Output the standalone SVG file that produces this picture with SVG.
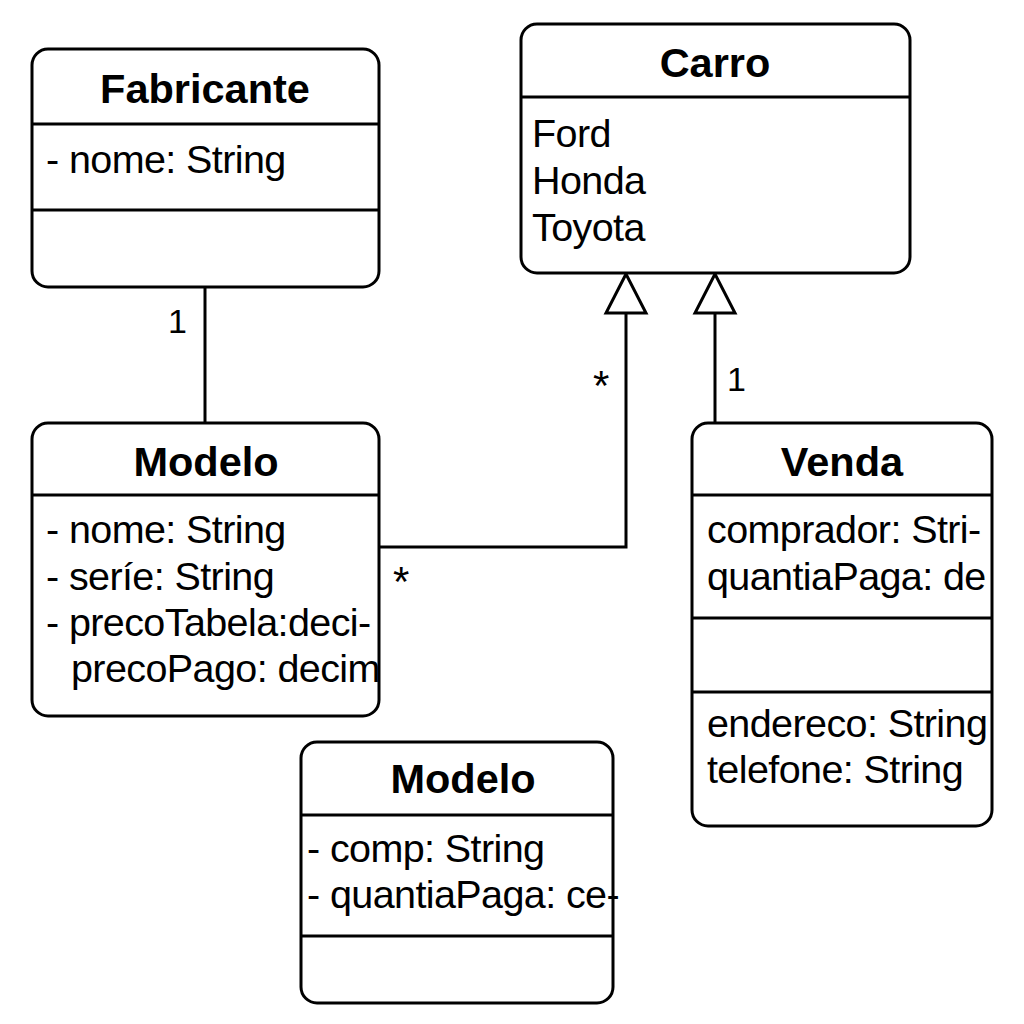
<svg xmlns="http://www.w3.org/2000/svg" width="1024" height="1024" viewBox="0 0 1024 1024">
<style>
.box{fill:#fff;stroke:#000;stroke-width:3}
.div{stroke:#000;stroke-width:3}
.t{font-family:"Liberation Sans",Arial,sans-serif;font-weight:bold;font-size:41.5px;text-anchor:middle;fill:#000}
.a{font-family:"Liberation Sans",Arial,sans-serif;font-size:39.5px;letter-spacing:-0.6px;fill:#000}
.lbl{font-family:"Liberation Sans",Arial,sans-serif;font-size:34px;fill:#000}
.star{font-family:"Liberation Sans",Arial,sans-serif;font-size:42px;fill:#000}
.ln{fill:none;stroke:#000;stroke-width:3}
.tri{fill:#fff;stroke:#000;stroke-width:3;stroke-linejoin:miter}
</style>
<rect width="1024" height="1024" fill="#fff"/>
<g id="connectors">
<line class="ln" x1="205" y1="287" x2="205" y2="423"/>
<polyline class="ln" points="379,547 626,547 626,313"/>
<line class="ln" x1="715" y1="423" x2="715" y2="313"/>
<polygon class="tri" points="626,274 606,313 646,313"/>
<polygon class="tri" points="715,274 695,313 735,313"/>
<text class="lbl" x="168" y="333">1</text>
<text class="star" x="593" y="400">*</text>
<text class="star" x="393" y="596">*</text>
<text class="lbl" x="727" y="391">1</text>
</g>
<g id="fabricante">
<rect class="box" x="32" y="49" width="347" height="238" rx="16"/>
<line class="div" x1="32" y1="124" x2="379" y2="124"/>
<line class="div" x1="32" y1="210" x2="379" y2="210"/>
<text class="t" x="205" y="103">Fabricante</text>
<text class="a" x="46" y="173">- nome: String</text>
</g>
<g id="carro">
<rect class="box" x="521" y="24" width="389" height="249" rx="16"/>
<line class="div" x1="521" y1="97" x2="910" y2="97"/>
<text class="t" x="715" y="77">Carro</text>
<text class="a" x="532" y="147">Ford</text>
<text class="a" x="532" y="194">Honda</text>
<text class="a" x="532" y="241">Toyota</text>
</g>
<g id="modelo1">
<rect class="box" x="32" y="423" width="347" height="293" rx="16"/>
<line class="div" x1="32" y1="495" x2="379" y2="495"/>
<text class="t" x="206" y="476">Modelo</text>
<text class="a" x="46" y="543">- nome: String</text>
<text class="a" x="46" y="590">- seríe: String</text>
<text class="a" x="46" y="636">- precoTabela:deci-</text>
<text class="a" x="71" y="682">precoPago: decim</text>
</g>
<g id="venda">
<rect class="box" x="692" y="423" width="300" height="403" rx="16"/>
<line class="div" x1="692" y1="495" x2="992" y2="495"/>
<line class="div" x1="692" y1="618" x2="992" y2="618"/>
<line class="div" x1="692" y1="692" x2="992" y2="692"/>
<text class="t" x="842" y="476">Venda</text>
<text class="a" x="707" y="543">comprador: Stri-</text>
<text class="a" x="707" y="590">quantiaPaga: de</text>
<text class="a" x="707" y="737">endereco: String</text>
<text class="a" x="707" y="783">telefone: String</text>
</g>
<g id="modelo2">
<rect class="box" x="301" y="742" width="312" height="261" rx="16"/>
<line class="div" x1="301" y1="815" x2="613" y2="815"/>
<line class="div" x1="301" y1="936" x2="613" y2="936"/>
<text class="t" x="463" y="793">Modelo</text>
<text class="a" x="307" y="862">- comp: String</text>
<text class="a" x="307" y="908">- quantiaPaga: ce-</text>
</g>
</svg>
